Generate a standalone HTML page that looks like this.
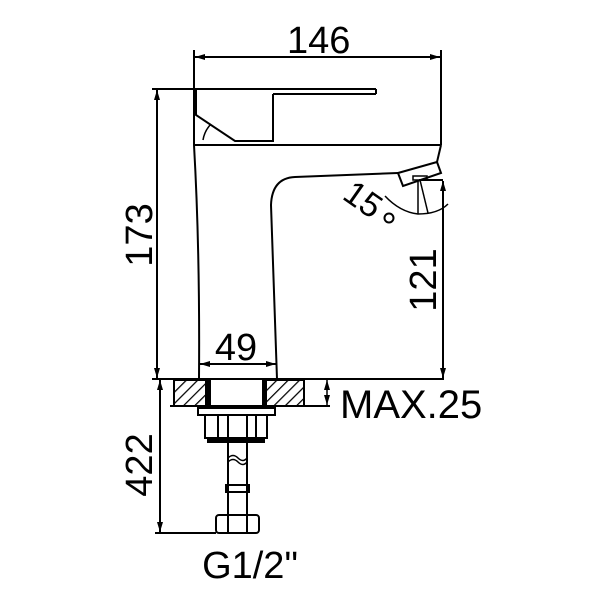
<!DOCTYPE html>
<html><head><style>body{margin:0;background:#fff}svg{display:block}</style></head><body>
<svg width="600" height="600" viewBox="0 0 600 600" xmlns="http://www.w3.org/2000/svg">
<defs>
<pattern id="h" width="8" height="8" patternUnits="userSpaceOnUse" patternTransform="rotate(45)">
<line x1="0" y1="0" x2="0" y2="8" stroke="#000" stroke-width="2.5"/></pattern>
<marker id="a" viewBox="0 0 10 6" refX="10" refY="3" markerWidth="10" markerHeight="6" orient="auto-start-reverse" markerUnits="userSpaceOnUse"><path d="M0,0 L10,3 L0,6z" fill="#000"/></marker>
</defs>
<g fill="none" stroke="#000" stroke-width="2">
<line x1="194" y1="50" x2="194" y2="145"/>
<line x1="441" y1="50" x2="441" y2="145"/>
<line x1="195" y1="57" x2="440" y2="57" marker-start="url(#a)" marker-end="url(#a)"/>
<line x1="152" y1="89" x2="376" y2="89"/>
<line x1="376" y1="89" x2="376" y2="94"/>
<line x1="273" y1="94" x2="376" y2="94"/>
<line x1="157" y1="90" x2="157" y2="378" marker-start="url(#a)" marker-end="url(#a)"/>
<path d="M196,89 V115 L235,141 H273 V94"/>
<path d="M203,140 A30,30 0 0 1 211,124" stroke-width="1.5"/>
<line x1="194" y1="145" x2="441" y2="145"/>
<path d="M194,145 Q200,250 199,379"/>
<path d="M277,379 L271,205 Q272,178 295,177 L398,173"/>
<path d="M441,145 L437,162"/>
<path d="M398,173 L437,162 L441,173 L403,186 Z"/>
<rect x="413" y="176" width="14" height="4" stroke-width="1.5"/>
<line x1="418" y1="180" x2="418" y2="214" stroke-width="1.5"/>
<line x1="420" y1="180" x2="428" y2="213" stroke-width="1.5"/>
<path d="M385,196 Q400,212 418,214 Q438,214 448,204" stroke-width="1.5"/>
<line x1="419" y1="180" x2="443" y2="180"/>
<line x1="443" y1="181" x2="443" y2="378" marker-start="url(#a)" marker-end="url(#a)"/>
<line x1="200" y1="364" x2="276" y2="364" marker-start="url(#a)" marker-end="url(#a)"/>
<line x1="152" y1="379" x2="444" y2="379"/>
<line x1="170" y1="406" x2="330" y2="406"/>
<line x1="327" y1="380" x2="327" y2="405" marker-start="url(#a)" marker-end="url(#a)" stroke-width="1.5"/>
</g>
<rect x="174" y="380" width="32" height="26" fill="url(#h)" stroke="#000" stroke-width="2"/>
<rect x="266" y="380" width="38" height="26" fill="url(#h)" stroke="#000" stroke-width="2"/>
<rect x="207" y="380" width="4" height="26" fill="#000"/>
<rect x="262" y="380" width="4" height="26" fill="#000"/>
<g fill="none" stroke="#000" stroke-width="2">
<rect x="198" y="408" width="77" height="7"/>
<rect x="205" y="415" width="62" height="23"/>
<line x1="218" y1="415" x2="218" y2="438"/><line x1="228" y1="415" x2="228" y2="438"/>
<line x1="247" y1="415" x2="247" y2="438"/><line x1="256" y1="415" x2="256" y2="438"/>
<rect x="208" y="438" width="56" height="4" fill="#000"/>
<line x1="228" y1="442" x2="228" y2="515"/><line x1="247" y1="442" x2="247" y2="515"/>
<path d="M228,458 q5,-5 10,0 t9,0" stroke-width="1.5"/>
<path d="M228,462 q5,-5 10,0 t9,0" stroke-width="1.5"/>
<rect x="226" y="485" width="23" height="7"/>
<rect x="216" y="515" width="43" height="18" rx="3"/>
<line x1="228" y1="515" x2="228" y2="533"/><line x1="247" y1="515" x2="247" y2="533"/>
<line x1="160" y1="380" x2="160" y2="532" marker-start="url(#a)" marker-end="url(#a)"/>
<line x1="155" y1="533" x2="216" y2="533"/>
</g>
<g font-family="Liberation Sans, sans-serif" font-size="38" fill="#000">
<text x="287" y="53">146</text>
<text x="236" y="360" text-anchor="middle">49</text>
<text x="340" y="418" font-size="40">MAX.25</text>
<text x="250" y="578" text-anchor="middle">G1/2"</text>
<text transform="translate(152,235) rotate(-90)" text-anchor="middle">173</text>
<text transform="translate(436,280) rotate(-90)" text-anchor="middle">121</text>
<text transform="translate(152,465) rotate(-90)" text-anchor="middle">422</text>
<text transform="translate(341,198) rotate(35)" font-size="34">15</text>
</g>
<circle cx="389" cy="218" r="4.5" fill="none" stroke="#000" stroke-width="2"/>
</svg>
</body></html>
